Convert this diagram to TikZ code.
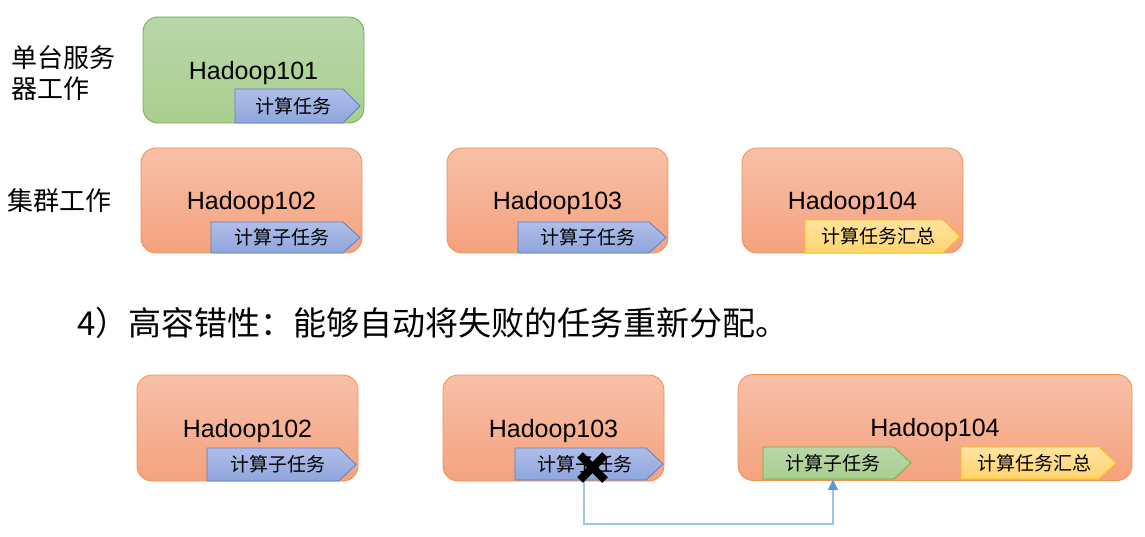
\documentclass[tikz,border=0pt]{standalone}
\usepackage{fontspec}
\setmainfont{Liberation Sans}
\newfontfamily\cjk{Noto Sans CJK SC}
\usetikzlibrary{arrows.meta,calc}
\definecolor{orT}{RGB}{248,192,168}
\definecolor{orB}{RGB}{244,162,126}
\definecolor{orD}{RGB}{240,145,80}
\definecolor{grT}{RGB}{184,215,170}
\definecolor{grB}{RGB}{168,207,141}
\definecolor{grD}{RGB}{112,173,71}
\definecolor{blT}{RGB}{176,190,232}
\definecolor{blB}{RGB}{142,165,220}
\definecolor{blD}{RGB}{90,128,200}
\definecolor{yeT}{RGB}{255,227,160}
\definecolor{yeB}{RGB}{255,212,110}
\definecolor{yeD}{RGB}{255,192,0}
\definecolor{lnC}{RGB}{157,195,230}
\definecolor{ahC}{RGB}{91,155,213}
\newcommand\tagpath[5]{%
  \path[#1] (#2,#4) -- (#3-17,#4) -- (#3,{(#4+#5)/2}) -- (#3-17,#5) -- (#2,#5) -- cycle;}
\begin{document}
\begin{tikzpicture}[x=1pt,y=-1pt,
  server/.style={rounded corners=15pt, minimum width=221pt, minimum height=106pt, inner sep=0pt,
    line width=0.8pt, text depth=0pt, font=\fontsize{25}{30}\selectfont},
  orbox/.style={server, draw=orD, top color=orT, bottom color=orB},
  grbox/.style={server, draw=grD, top color=grT, bottom color=grB},
  tagtext/.style={inner sep=0pt, minimum height=32pt, font=\cjk\fontsize{19}{22}\selectfont},
  bltag/.style={draw=blD, line width=0.8pt, top color=blT, bottom color=blB},
  yetag/.style={draw=yeD, line width=0.8pt, top color=yeT, bottom color=yeB},
  grtag/.style={draw=grD, line width=0.8pt, top color=grT, bottom color=grB},
  side/.style={anchor=base west, inner sep=0pt, align=left, font=\cjk\fontsize{26}{31}\selectfont},
  conn/.style={draw=lnC, line width=1.5pt, -{Triangle[length=11pt,width=10pt,color=ahC]}},
  cross/.style={line width=8pt, black}
]
\useasboundingbox (0,0) rectangle (1145,537);

% left labels
\node[side] (l1) at (11,99) {单台服务\\器工作};
\node[side] (l2) at (7,211) {集群工作};

% row 1
\node[grbox] (h101) at (253.5,70) {Hadoop101};
\tagpath{bltag}{235}{360}{89}{123}
\node[tagtext] (t101) at (293.5,106) {计算任务};

% row 2
\node[orbox, minimum height=105pt] (h102) at (251.5,200.5) {Hadoop102};
\tagpath{bltag}{211}{360}{222}{253}
\node[tagtext] (t102) at (281.5,237.5) {计算子任务};

\node[orbox, minimum height=105pt] (h103) at (557.5,200.5) {Hadoop103};
\tagpath{bltag}{518}{666}{222}{253}
\node[tagtext] (t103) at (588,237.5) {计算子任务};

\node[orbox, minimum height=105pt] (h104) at (852.5,200.5) {Hadoop104};
\tagpath{yetag}{805}{960}{220}{253}
\node[tagtext] (t104) at (878,236.5) {计算任务汇总};

% heading
\node[anchor=base west, inner sep=0pt, font=\cjk\fontsize{33}{40}\selectfont] (head) at (77,335)
  {4）高容错性：能够自动将失败的任务重新分配。};

% row 3
\node[orbox] (b102) at (247.5,428) {Hadoop102};
\tagpath{bltag}{207}{356}{448}{481}
\node[tagtext] (u102) at (277.5,464.5) {计算子任务};

\node[orbox] (b103) at (553.5,428) {Hadoop103};
\tagpath{bltag}{515}{663}{448}{480}
\node[tagtext] (u103) at (585,464) {计算子任务};

\node[orbox, minimum width=394pt] (b104) at (935,427.5) {Hadoop104};
\tagpath{grtag}{763}{911}{447}{479}
\node[tagtext] (gtag) at (833,463) {计算子任务};
\tagpath{yetag}{961}{1116}{447}{479}
\node[tagtext] (ytag) at (1034,463) {计算任务汇总};

% connector
\coordinate (xb) at (584,481);
\draw[conn] (xb) -- ++(0,43) -| (gtag.south);

% failure mark
\coordinate (xm) at (592.5,467.5);
\draw[cross] ($(xm)+(-12.5,-12.5)$) -- ($(xm)+(12.5,12.5)$);
\draw[cross] ($(xm)+(-12.5,12.5)$) -- ($(xm)+(12.5,-12.5)$);
\end{tikzpicture}
\end{document}
